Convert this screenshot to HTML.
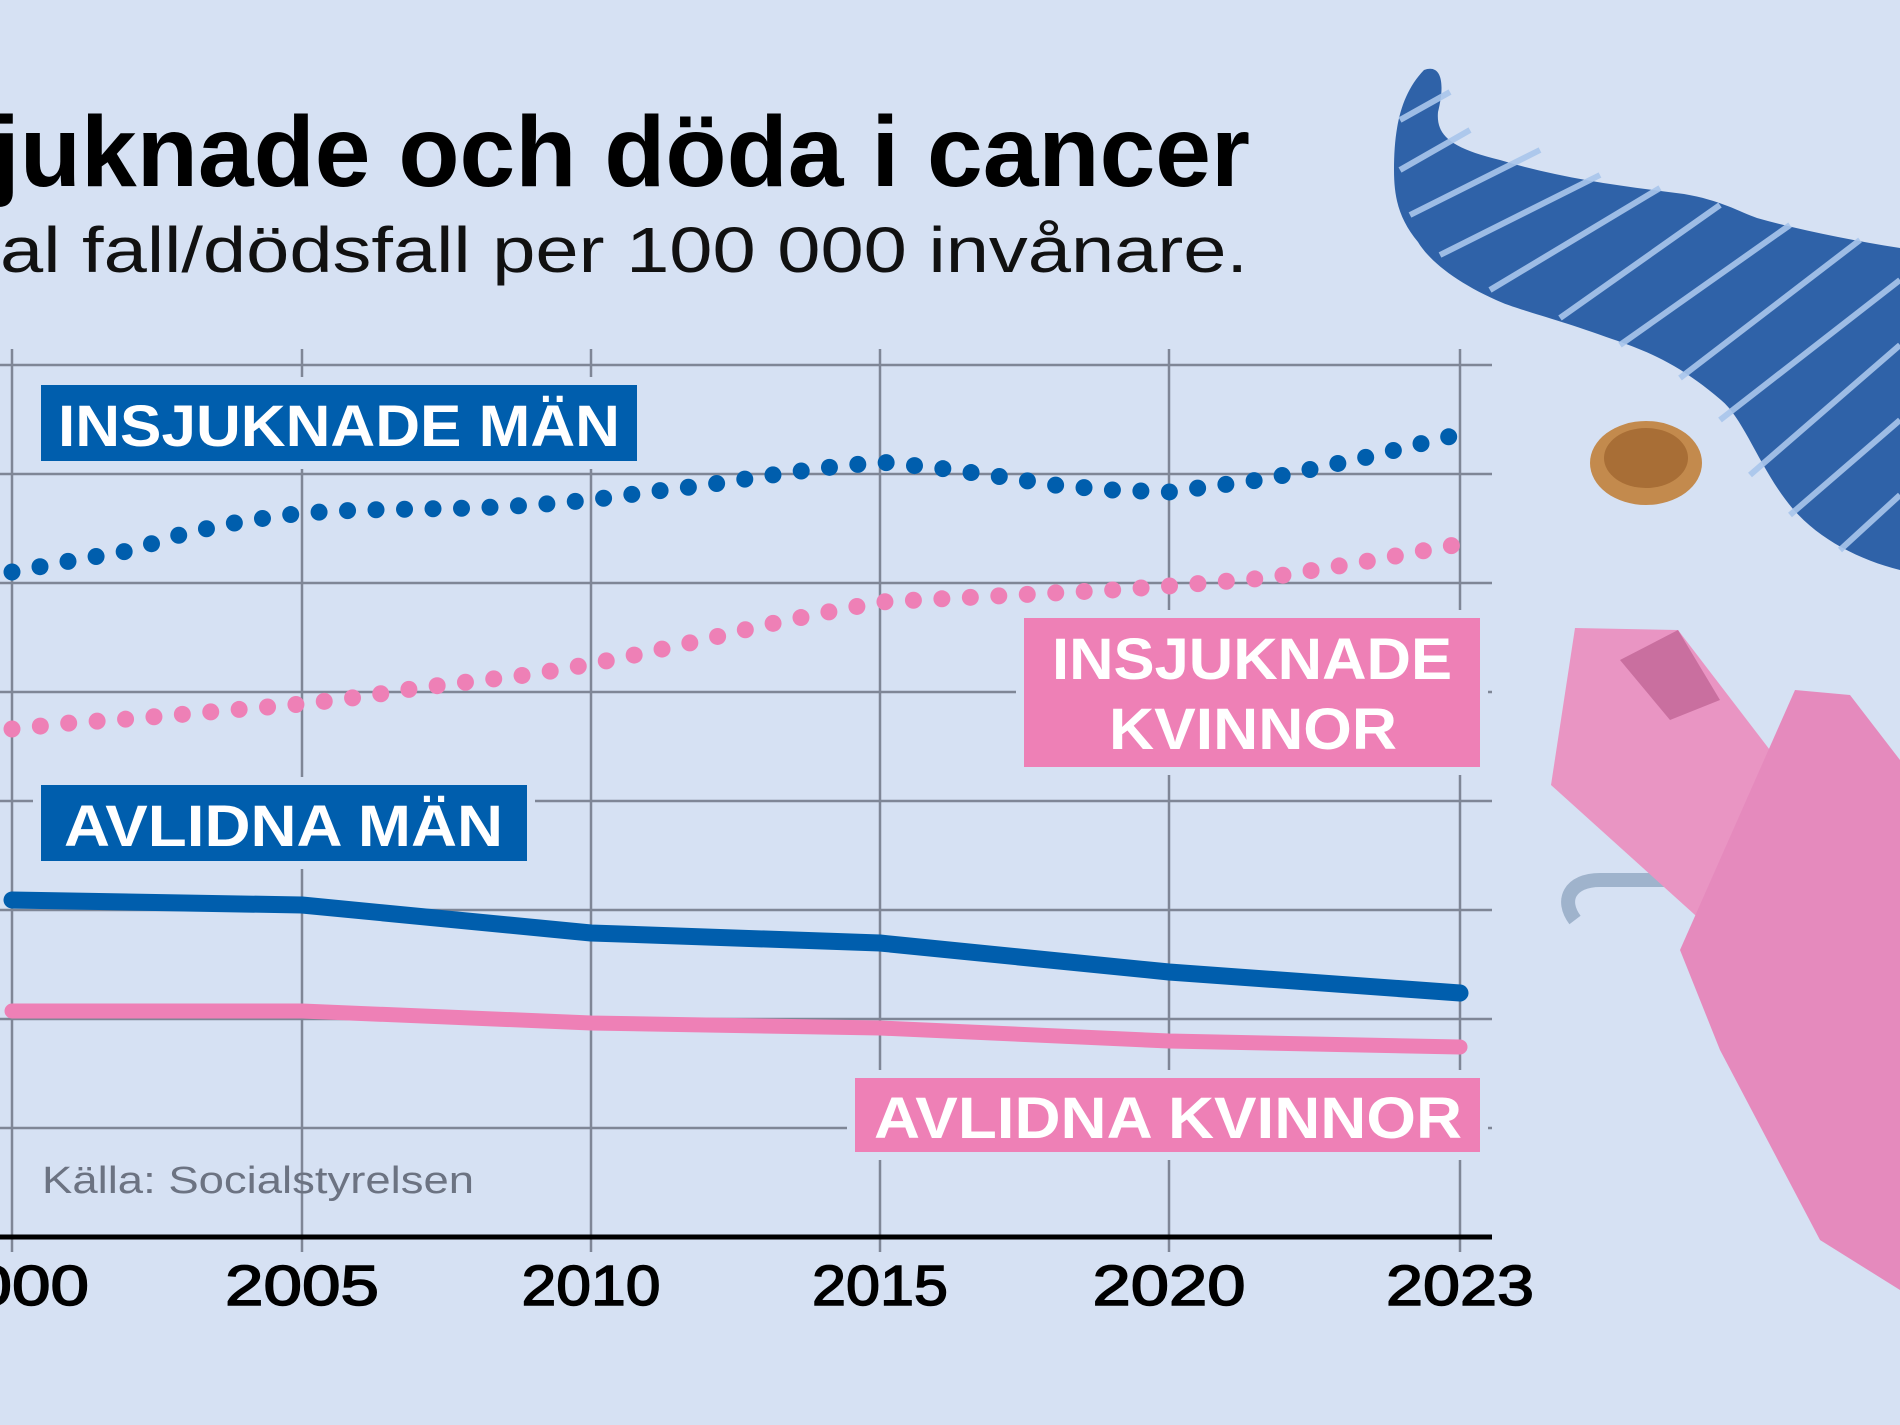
<!DOCTYPE html>
<html><head><meta charset="utf-8"><style>
html,body{margin:0;padding:0;background:#d6e1f3;}
svg{display:block}
</style></head><body>
<svg width="1900" height="1425" viewBox="0 0 1900 1425" xmlns="http://www.w3.org/2000/svg">
<rect width="1900" height="1425" fill="#d6e1f3"/>
<!-- decorations -->
<path d="M1424,70 C1440,64 1446,80 1438,112 C1436,135 1450,148 1500,160 C1560,178 1620,186 1684,194 C1720,200 1740,212 1757,218 C1800,230 1850,240 1900,248 L1900,570 C1860,560 1820,540 1793,509 C1760,470 1745,420 1721,400 C1680,365 1650,352 1612,339 C1560,320 1520,310 1503,303 C1460,285 1430,262 1418,242 C1400,220 1394,200 1394,170 C1394,130 1400,95 1424,70 Z" fill="#2f62a8"/>
<g stroke="#a9c6ec" stroke-width="6" fill="none" opacity="0.9">
<line x1="1400" y1="120" x2="1450" y2="92"/>
<line x1="1400" y1="170" x2="1470" y2="130"/>
<line x1="1410" y1="215" x2="1540" y2="150"/>
<line x1="1440" y1="255" x2="1600" y2="175"/>
<line x1="1490" y1="290" x2="1660" y2="188"/>
<line x1="1560" y1="318" x2="1720" y2="205"/>
<line x1="1620" y1="345" x2="1790" y2="225"/>
<line x1="1680" y1="378" x2="1860" y2="240"/>
<line x1="1720" y1="420" x2="1900" y2="280"/>
<line x1="1750" y1="475" x2="1900" y2="345"/>
<line x1="1790" y1="515" x2="1900" y2="420"/>
<line x1="1840" y1="550" x2="1900" y2="495"/>
</g>
<ellipse cx="1646" cy="463" rx="56" ry="42" fill="#c38a4d"/>
<ellipse cx="1646" cy="458" rx="42" ry="30" fill="#a86e36"/>
<path d="M1575,920 C1560,900 1570,880 1600,880 L1700,880" stroke="#9fb3cc" stroke-width="14" fill="none"/>
<path d="M1850,810 C1880,800 1900,820 1890,840 L1820,880" stroke="#9fb3cc" stroke-width="12" fill="none"/>
<path d="M1551,785 L1575,628 L1678,630 L1900,920 L1900,1100 Z" fill="#e995c3"/>
<path d="M1795,690 L1850,695 L1900,760 L1900,1290 L1820,1240 L1720,1050 L1680,950 Z" fill="#e58abd"/>
<path d="M1620,660 L1678,630 L1720,700 L1670,720 Z" fill="#c96f9f"/>
<!-- grid -->
<g stroke="#7f8696" stroke-width="2.5">
<line x1="0" y1="365" x2="1492" y2="365"/>
<line x1="0" y1="474" x2="1492" y2="474"/>
<line x1="0" y1="583" x2="1492" y2="583"/>
<line x1="0" y1="692" x2="1492" y2="692"/>
<line x1="0" y1="801" x2="1492" y2="801"/>
<line x1="0" y1="910" x2="1492" y2="910"/>
<line x1="0" y1="1019" x2="1492" y2="1019"/>
<line x1="0" y1="1128" x2="1492" y2="1128"/>
<line x1="12" y1="349" x2="12" y2="1252"/>
<line x1="302" y1="349" x2="302" y2="1252"/>
<line x1="591" y1="349" x2="591" y2="1252"/>
<line x1="880" y1="349" x2="880" y2="1252"/>
<line x1="1169" y1="349" x2="1169" y2="1252"/>
<line x1="1460" y1="349" x2="1460" y2="1252"/>
</g>
<line x1="0" y1="1237" x2="1492" y2="1237" stroke="#000" stroke-width="5"/>
<!-- label boxes -->
<g stroke="#d6e1f3" stroke-width="16" paint-order="stroke">
<rect x="41" y="385" width="596" height="76" fill="#005ead"/>
<rect x="41" y="785" width="486" height="76" fill="#005ead"/>
<rect x="1024" y="618" width="456" height="149" fill="#ee80b6"/>
<rect x="855" y="1078" width="625" height="74" fill="#ee80b6"/>
</g>
<g font-family="Liberation Sans, sans-serif" font-weight="bold" fill="#fff" font-size="58">
<text x="58" y="446" textLength="562" lengthAdjust="spacingAndGlyphs">INSJUKNADE MÄN</text>
<text x="64" y="846" textLength="439" lengthAdjust="spacingAndGlyphs">AVLIDNA MÄN</text>
<text x="1052" y="679" textLength="400" lengthAdjust="spacingAndGlyphs">INSJUKNADE</text>
<text x="1109" y="749" textLength="288" lengthAdjust="spacingAndGlyphs">KVINNOR</text>
<text x="874" y="1138" textLength="588" lengthAdjust="spacingAndGlyphs">AVLIDNA KVINNOR</text>
</g>
<!-- series -->
<g fill="none" stroke-linecap="round" stroke-linejoin="round">
<path d="M12,572 L70,561 L128,551 L186,533 L244,521 L302,513 L360,510 L418,509 L476,508 L534,505 L591,500 L649,492 L707,485 L765,476 L823,468 L880,462 L938,468 L996,476 L1054,485 L1112,490 L1169,492 L1266,479 L1363,458 L1460,434" stroke="#005ead" stroke-width="17" stroke-dasharray="0 28.5"/>
<path d="M12,729 L70,723 L128,719 L186,714 L244,709 L302,704 L360,697 L418,688 L476,681 L534,674 L591,664 L649,652 L707,639 L765,625 L823,613 L880,602 L938,599 L996,596 L1054,593 L1112,590 L1169,586 L1266,578 L1363,562 L1460,544" stroke="#ee80b6" stroke-width="17" stroke-dasharray="0 28.5"/>
<path d="M12,900 L302,905 L591,933 L880,943 L1169,972 L1460,993" stroke="#005ead" stroke-width="17"/>
<path d="M12,1011 L302,1011 L591,1023 L880,1028 L1169,1041 L1460,1047" stroke="#ee80b6" stroke-width="15"/>
</g>
<!-- text -->
<text x="-8" y="186" font-family="Liberation Sans, sans-serif" font-weight="bold" font-size="100" fill="#000" textLength="1258" lengthAdjust="spacingAndGlyphs">juknade och döda i cancer</text>
<text x="0" y="272" font-family="Liberation Sans, sans-serif" font-size="64" fill="#111" textLength="1248" lengthAdjust="spacingAndGlyphs">al fall/dödsfall per 100 000 invånare.</text>
<text x="42" y="1193" font-family="Liberation Sans, sans-serif" font-size="38" fill="#6c7382" textLength="432" lengthAdjust="spacingAndGlyphs">Källa: Socialstyrelsen</text>
<g font-family="Liberation Sans, sans-serif" font-size="57" fill="#000" text-anchor="middle" stroke="#000" stroke-width="1.5">
<text x="12" y="1305" textLength="154" lengthAdjust="spacingAndGlyphs">2000</text>
<text x="302" y="1305" textLength="154" lengthAdjust="spacingAndGlyphs">2005</text>
<text x="591" y="1305" textLength="139" lengthAdjust="spacingAndGlyphs">2010</text>
<text x="880" y="1305" textLength="136" lengthAdjust="spacingAndGlyphs">2015</text>
<text x="1169" y="1305" textLength="153" lengthAdjust="spacingAndGlyphs">2020</text>
<text x="1460" y="1305" textLength="148" lengthAdjust="spacingAndGlyphs">2023</text>
</g>
</svg>
</body></html>
